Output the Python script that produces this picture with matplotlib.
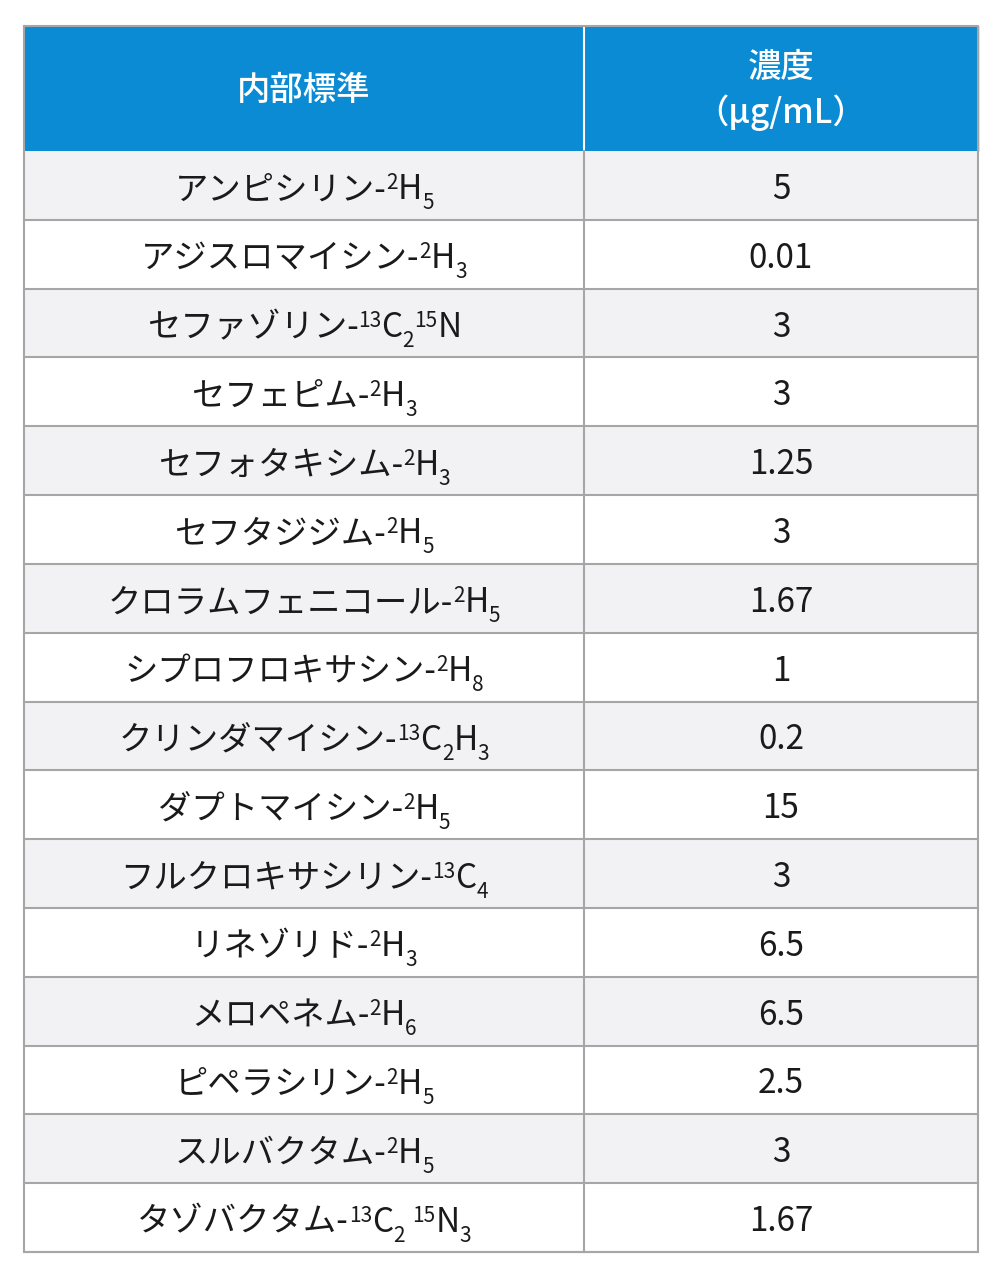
import re
import matplotlib
matplotlib.use("Agg")
import matplotlib.pyplot as plt
from matplotlib.patches import Rectangle

names = ["アンピシリン-^{2}H_{5}", "アジスロマイシン-^{2}H_{3}", "セファゾリン-^{13}C_{2}^{15}N",
         "セフェピム-^{2}H_{3}", "セフォタキシム-^{2}H_{3}", "セフタジジム-^{2}H_{5}",
         "クロラムフェニコール-^{2}H_{5}", "シプロフロキサシン-^{2}H_{8}", "クリンダマイシン-^{13}C_{2}H_{3}",
         "ダプトマイシン-^{2}H_{5}", "フルクロキサシリン-^{13}C_{4}", "リネゾリド-^{2}H_{3}",
         "メロペネム-^{2}H_{6}", "ピペラシリン-^{2}H_{5}", "スルバクタム-^{2}H_{5}",
         "タゾバクタム-^{13}C_{2} ^{15}N_{3}"]
values = ["5", "0.01", "3", "3", "1.25", "3", "1.67", "1", "0.2", "15", "3", "6.5", "6.5", "2.5", "3", "1.67"]
headers = ["内部標準", "濃度\n（μg/mL）"]

FONT = "Noto Sans CJK JP"
W, H = 1003, 1280
fig = plt.figure(figsize=(W/100, H/100), dpi=100)
ax = fig.add_axes([0, 0, 1, 1])
ax.set_xlim(0, W); ax.set_ylim(H, 0); ax.axis("off")

L, R, MID = 24, 978, 584
TOP, HB = 26, 151
rh = (1252 - HB) / len(names)
grid = "#a6a6a6"

ax.add_patch(Rectangle((L, TOP), R-L, HB-TOP, color="#0a8bd3", zorder=1))
for i in range(len(names)):
    y0 = HB + i*rh
    ax.add_patch(Rectangle((L, y0), R-L, rh, facecolor="#f2f2f4" if i % 2 == 0 else "white", zorder=1))
    ax.plot([L, R], [y0 + rh, y0 + rh], color=grid, lw=1.5, zorder=2)
ax.plot([L, R, R, L, L], [TOP, TOP, 1252, 1252, TOP], color=grid, lw=1.5, zorder=3)
ax.plot([MID, MID], [TOP, HB], color="white", lw=1.5, zorder=2)
ax.plot([MID, MID], [HB, 1252], color=grid, lw=1.5, zorder=2)

ax.text((L+MID)/2, (TOP+HB)/2 + 2, headers[0], color="white", fontsize=24, family=FONT,
        ha="center", va="center", fontweight="medium", zorder=4)
ax.text((MID+R)/2, (TOP+HB)/2 + 2, headers[1], color="white", fontsize=24, family=FONT,
        ha="center", va="center", fontweight="medium", linespacing=1.3, zorder=4)

fig.canvas.draw()
rend = fig.canvas.get_renderer()
tok = re.compile(r"\^\{([^}]*)\}|_\{([^}]*)\}|([^^_]+)")
for i, (nm, v) in enumerate(zip(names, values)):
    yc = HB + (i + 0.5)*rh + 4
    ax.text((MID+R)/2, yc, v, fontsize=24, family=FONT, ha="center", va="center", color="#1a1a1a", zorder=4)
    pieces = []
    for m in tok.finditer(nm):
        if m.group(1) is not None:
            pieces.append((m.group(1), 15, -10))
        elif m.group(2) is not None:
            pieces.append((m.group(2), 15, 10))
        else:
            pieces.append((m.group(3), 24, 0))
    objs = []
    for s, fs, dy in pieces:
        t = ax.text(0, yc + 10 + dy, s, fontsize=fs, family=FONT, ha="left", va="baseline",
                    color="#1a1a1a", zorder=4)
        objs.append(t)
    widths = [t.get_window_extent(rend).width for t in objs]
    x = (L+MID)/2 - sum(widths)/2
    for t, w in zip(objs, widths):
        t.set_x(x); x += w

fig.savefig("out.png", dpi=100)
